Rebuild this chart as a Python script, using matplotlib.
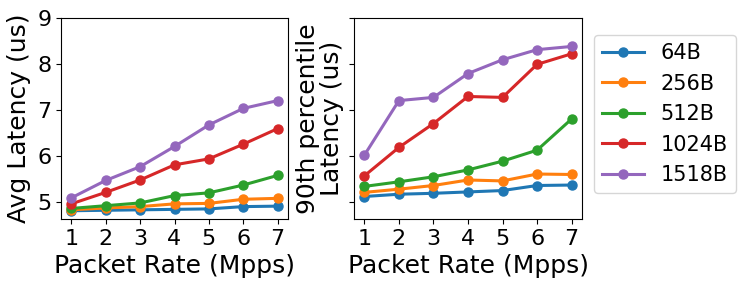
import numpy as np
import matplotlib
matplotlib.use("Agg")
import matplotlib.pyplot as plt

rates = [1, 2, 3, 4, 5, 6, 7]
sizes = ["64B", "256B", "512B", "1024B", "1518B"]

avg_64 = [4.80, 4.81, 4.82, 4.83, 4.84, 4.89, 4.90]
avg_256 = [4.82, 4.86, 4.89, 4.95, 4.96, 5.05, 5.07]
avg_512 = [4.85, 4.91, 4.97, 5.13, 5.19, 5.36, 5.57]
avg_1024 = [4.95, 5.20, 5.47, 5.80, 5.93, 6.25, 6.59]
avg_1518 = [5.08, 5.46, 5.76, 6.20, 6.67, 7.03, 7.20]

p90_64 = [5.11, 5.16, 5.18, 5.21, 5.24, 5.35, 5.36]
p90_256 = [5.20, 5.27, 5.35, 5.47, 5.45, 5.60, 5.59]
p90_512 = [5.33, 5.43, 5.54, 5.69, 5.88, 6.12, 6.80]
p90_1024 = [5.56, 6.18, 6.70, 7.29, 7.27, 7.99, 8.22]
p90_1518 = [6.01, 7.20, 7.27, 7.79, 8.09, 8.31, 8.38]

avg_series = [avg_64, avg_256, avg_512, avg_1024, avg_1518]
p90_series = [p90_64, p90_256, p90_512, p90_1024, p90_1518]

fig = plt.figure(figsize=(7.47, 2.91), dpi=100)
ax1 = fig.add_axes([61 / 747, 1 - 219 / 291, 227 / 747, 201 / 291])
ax2 = fig.add_axes([354 / 747, 1 - 219 / 291, 228 / 747, 201 / 291], sharey=ax1)

for vals, lab in zip(avg_series, sizes):
    ax1.plot(rates, vals, marker="o", lw=2.2, ms=6.5, label=lab)
for vals, lab in zip(p90_series, sizes):
    ax2.plot(rates, vals, marker="o", lw=2.2, ms=6.5, label=lab)

ax1.set_ylim(4.62, 9)
ax1.set_yticks([5, 6, 7, 8, 9])
ax2.tick_params(axis="y", labelleft=False)

for ax in (ax1, ax2):
    ax.set_xticks(rates)
    ax.tick_params(axis="both", labelsize=16)
    ax.set_xlabel("Packet Rate (Mpps)", fontsize=18)

ax1.set_ylabel("Avg Latency (us)", fontsize=18)
ax2.set_ylabel("90th percentile\nLatency (us)", fontsize=18, linespacing=1.0)

handles, labels = ax1.get_legend_handles_labels()
fig.legend(handles, labels, loc="upper left", bbox_to_anchor=(594 / 747, 1 - 35 / 291),
           fontsize=15, borderaxespad=0.0)

fig.savefig("out.png", dpi=100)
